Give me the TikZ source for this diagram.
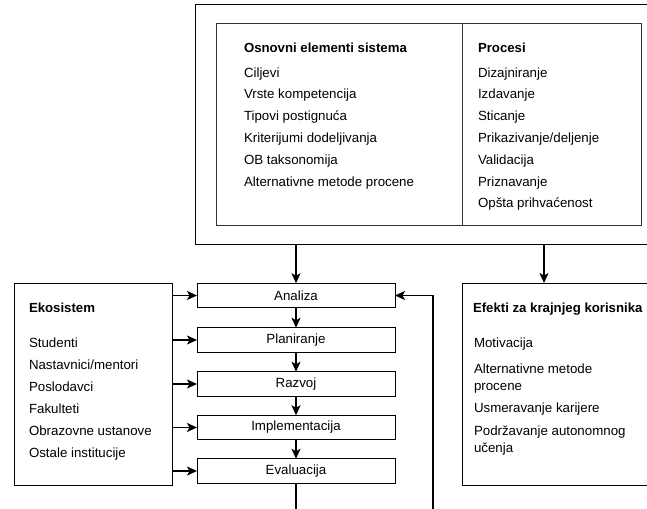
\documentclass[tikz,border=0pt]{standalone}
\usepackage{fontspec}
\setmainfont{Liberation Sans}
\usetikzlibrary{arrows.meta}
\begin{document}
\begin{tikzpicture}[x=1pt,y=-1pt,
  every node/.style={font=\fontsize{13.3}{17}\selectfont, inner sep=0pt, outer sep=0pt},
  box/.style={draw, line width=1pt, rectangle},
  stage/.style={draw, line width=1pt, minimum width=198pt, minimum height=24.5pt},
  item/.style={anchor=mid west},
  head/.style={anchor=mid west, font=\fontsize{13.2}{17}\selectfont\bfseries},
  flow/.style={line width=1.5pt, -{Stealth[length=10pt,width=9pt,inset=2.5pt]}},
  plain/.style={line width=1.5pt}]
\clip (0,0) rectangle (647,508);
\useasboundingbox (0,0) rectangle (647,508);

% top frame with the two-column table of system elements and processes
\node[box, minimum width=505pt, minimum height=239pt] (frame) at (447.5,124.5) {};
\node[box, draw=black!80, minimum width=425pt, minimum height=201pt] (inner) at (428.5,124.5) {};
\coordinate (divx) at (462,0);
\draw[line width=1pt, black!80] (inner.north -| divx) -- (inner.south -| divx);

\node[head] (hOsn) at (244,49.5) {Osnovni elementi sistema};
\node[item] (o1) at (244,74.5) {Ciljevi};
\node[item] (o2) at (244,96.3) {Vrste kompetencija};
\node[item] (o3) at (244,118.1) {Tipovi postignuća};
\node[item] (o4) at (244,139.9) {Kriterijumi dodeljivanja};
\node[item] (o5) at (244,161.7) {OB taksonomija};
\node[item] (o6) at (244,183.5) {Alternativne metode procene};

\node[head] (hPro) at (478,49.5) {Procesi};
\node[item] (p1) at (478,74.5) {Dizajniranje};
\node[item] (p2) at (478,96.3) {Izdavanje};
\node[item] (p3) at (478,118.1) {Sticanje};
\node[item] (p4) at (478,139.9) {Prikazivanje/deljenje};
\node[item] (p5) at (478,161.7) {Validacija};
\node[item] (p6) at (478,183.5) {Priznavanje};
\node[item] (p7) at (478,205.3) {Opšta prihvaćenost};

% ecosystem box
\node[box, minimum width=158pt, minimum height=202pt] (eco) at (93,384) {};
\node[head] (hEko) at (29,310) {Ekosistem};
\node[item] (e1) at (29,344.5) {Studenti};
\node[item] (e2) at (29,366.5) {Nastavnici/mentori};
\node[item] (e3) at (29,388.5) {Poslodavci};
\node[item] (e4) at (29,410.5) {Fakulteti};
\node[item] (e5) at (29,432.5) {Obrazovne ustanove};
\node[item] (e6) at (29,454.5) {Ostale institucije};

% end-user effects box
\node[box, minimum width=238pt, minimum height=202pt] (efekti) at (581,384) {};
\node[head] (hEf) at (473,310) {Efekti za krajnjeg korisnika};
\node[item] (f1) at (474,345) {Motivacija};
\node[item] (f2a) at (474,370.5) {Alternativne metode};
\node[item] (f2b) at (474,387.5) {procene};
\node[item] (f3) at (474,410) {Usmeravanje karijere};
\node[item] (f4a) at (474,432.5) {Podržavanje autonomnog};
\node[item] (f4b) at (474,449.5) {učenja};

% development cycle stages
\node[stage] (analiza) at (296,295.5) {Analiza};
\node[stage] (planiranje) at (296,340) {Planiranje};
\node[stage] (razvoj) at (296,384) {Razvoj};
\node[stage] (implementacija) at (296,427.5) {Implementacija};
\node[stage] (evaluacija) at (296,471) {Evaluacija};

% connectors
\coordinate (effx) at (544,0);
\draw[flow] (frame.south -| analiza.north) -- (analiza.north);
\draw[flow] (frame.south -| effx) -- (efekti.north -| effx);

\foreach \s in {analiza,planiranje,razvoj,implementacija,evaluacija}
  \draw[flow] (\s.west -| eco.east) -- (\s.west);

\draw[flow] (analiza.south) -- (planiranje.north);
\draw[flow] (planiranje.south) -- (razvoj.north);
\draw[flow] (razvoj.south) -- (implementacija.north);
\draw[flow] (implementacija.south) -- (evaluacija.north);

\coordinate (evout) at (296,515);
\coordinate (loopin) at (433,515);
\draw[plain] (evaluacija.south) -- (evout);
\draw[flow] (loopin) |- (analiza.east);
\end{tikzpicture}
\end{document}
